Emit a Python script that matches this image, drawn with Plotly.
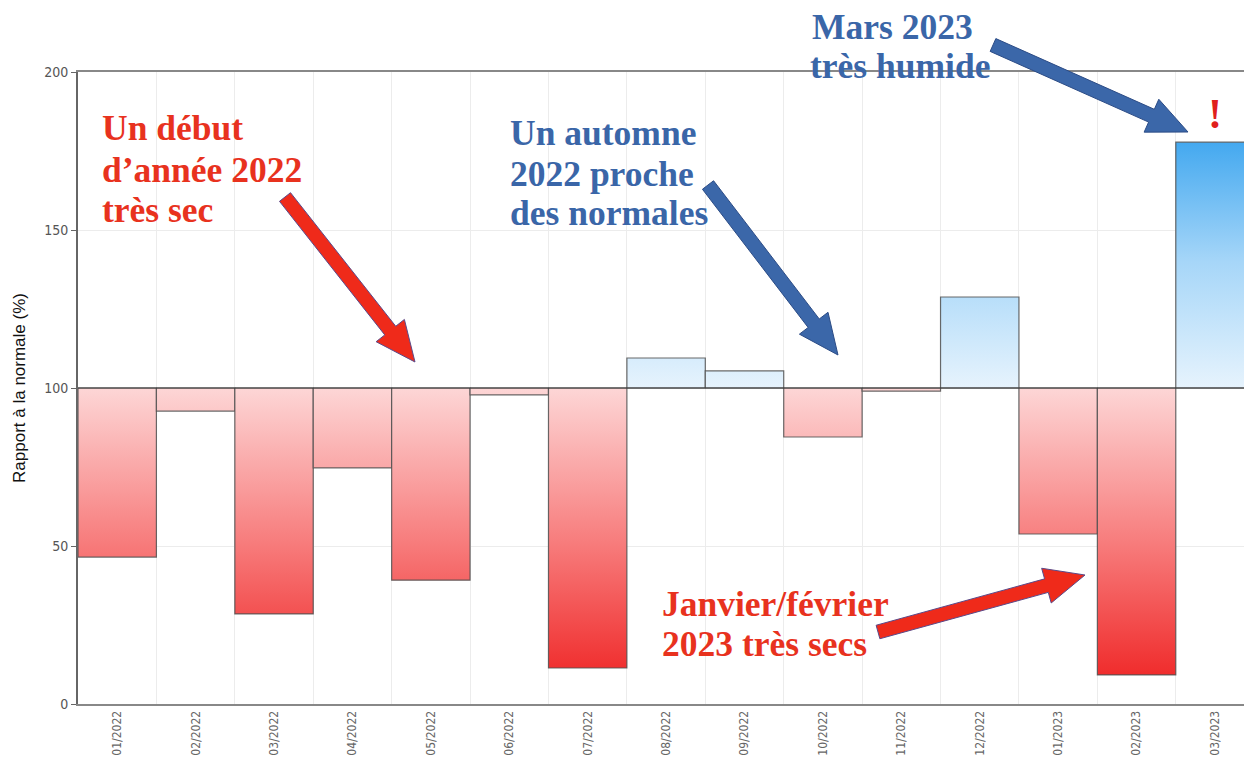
import math
import plotly.graph_objects as go

# ---- data ----
months = ["01/2022", "02/2022", "03/2022", "04/2022", "05/2022", "06/2022", "07/2022",
          "08/2022", "09/2022", "10/2022", "11/2022", "12/2022", "01/2023", "02/2023", "03/2023"]
ratio = [46.5, 92.7, 28.5, 74.7, 39.2, 97.8, 11.4, 109.5, 105.4, 84.5, 99.0, 128.8, 53.8, 9.2, 177.8]
normal = 100
y_ticks = [0, 50, 100, 150, 200]

# ---- geometry ----
W, H = 1244, 769
ML, MR, MT, MB = 78, 0, 72, 65
PW, PH = W - ML - MR, H - MT - MB

def px(x):
    return (x - ML) / PW

def py(y):
    return (H - MB - y) / PH

RED = "#e8321e"
BLUE = "#3a66a8"

fig = go.Figure()

red_scale = [[0, "#ee1b1b"], [0.5, "#f77a7a"], [1, "#fdd6d6"]]
blue_scale = [[0, "#e6f3fd"], [0.5, "#a6d6f8"], [1, "#3ea6ef"]]

for i, (m, v) in enumerate(zip(months, ratio)):
    xs = [i - 0.5, i + 0.5, i + 0.5, i - 0.5, i - 0.5]
    ys = [normal, normal, v, v, normal]
    if v < normal:
        grad = dict(type="vertical", colorscale=red_scale, start=0, stop=100)
    else:
        grad = dict(type="vertical", colorscale=blue_scale, start=100, stop=180)
    fig.add_trace(go.Scatter(
        x=xs, y=ys, mode="lines", fill="toself", fillgradient=grad,
        line=dict(color="rgba(80,80,80,0.85)", width=1.2),
        hoverinfo="skip", showlegend=False))

shapes = [dict(type="line", xref="paper", yref="y", x0=0, x1=1, y0=normal, y1=normal,
               line=dict(color="#333333", width=1.2), layer="above")]

def arrow(tail, head, fill, outline, shaft=14, headw=36, headl=40):
    (x0, y0), (x1, y1) = tail, head
    dx, dy = x1 - x0, y1 - y0
    L = math.hypot(dx, dy)
    ux, uy = dx / L, dy / L
    nx, ny = -uy, ux
    bx, by = x1 - ux * headl, y1 - uy * headl
    pts = [
        (x0 + nx * shaft / 2, y0 + ny * shaft / 2),
        (bx + nx * shaft / 2, by + ny * shaft / 2),
        (bx + nx * headw / 2, by + ny * headw / 2),
        (x1, y1),
        (bx - nx * headw / 2, by - ny * headw / 2),
        (bx - nx * shaft / 2, by - ny * shaft / 2),
        (x0 - nx * shaft / 2, y0 - ny * shaft / 2),
    ]
    path = "M " + " L ".join(f"{px(a):.5f},{py(b):.5f}" for a, b in pts) + " Z"
    return dict(type="path", xref="paper", yref="paper", path=path,
                fillcolor=fill, line=dict(color=outline, width=1), layer="above")

shapes.append(arrow((285, 197), (415, 362), "#ef2a1a", "#5a4a8a"))
shapes.append(arrow((708, 185), (838, 355), "#3b67a9", "#2c4c86"))
shapes.append(arrow((993, 45), (1188, 132), "#3b67a9", "#2c4c86"))
shapes.append(arrow((878, 632), (1085, 575), "#ef2a1a", "#5a4a8a"))

serif = "Liberation Serif, Times New Roman, serif"
FS = 35.5
text_lines = [
    ("Un début", 100, 128, RED),
    ("d’année 2022", 100, 170, RED),
    ("très sec", 100, 210, RED),
    ("Un automne", 508, 133, BLUE),
    ("2022 proche", 508, 174, BLUE),
    ("des normales", 508, 213, BLUE),
    ("Mars 2023", 810, 27, BLUE),
    ("très humide", 808, 66, BLUE),
    ("Janvier/février", 660, 604, RED),
    ("2023 très secs", 660, 644, RED),
]
annotations = []
for t, x, y, c in text_lines:
    annotations.append(dict(text=f"<b>{t}</b>", x=px(x), y=py(y), xanchor="left", yanchor="middle",
                            font=dict(family=serif, size=FS, color=c)))
annotations.append(dict(text="<b>!</b>", x=px(1215), y=py(114), xanchor="center", yanchor="middle",
                        font=dict(family=serif, size=42, color="#e0201c")))
for a in annotations:
    a.update(xref="paper", yref="paper", showarrow=False)

fig.update_layout(
    width=W, height=H,
    margin=dict(l=ML, r=MR, t=MT, b=MB, pad=0),
    paper_bgcolor="white", plot_bgcolor="white",
    showlegend=False, hovermode=False,
    shapes=shapes, annotations=annotations,
    font=dict(family="DejaVu Sans Condensed, Liberation Sans Narrow, sans-serif", color="#555555"),
)
fig.update_xaxes(
    range=[-0.5, 14.37], tickmode="array", tickvals=list(range(len(months))), ticktext=months,
    tickangle=-90, tickfont=dict(size=12, color="#666666"), ticks="", showgrid=False,
    showline=True, linecolor="#888888", linewidth=2, mirror=True, zeroline=False,
    minor=dict(tickvals=[i + 0.5 for i in range(len(months))], showgrid=True,
               gridcolor="#ececec", gridwidth=1, ticks=""),
)
fig.update_yaxes(
    range=[0, 200], tickmode="array", tickvals=y_ticks, ticks="outside", ticklen=5,
    tickcolor="#666666", tickfont=dict(size=14, color="#555555"),
    showgrid=True, gridcolor="#ececec", gridwidth=1,
    showline=True, linecolor="#666666", linewidth=2, zeroline=False,
    title=dict(text="Rapport à la normale (%)", standoff=14,
               font=dict(family="Liberation Sans, Arial, sans-serif", size=17, color="#111111")),
)

fig.write_html("out.html", config={"displayModeBar": False},
               post_script="document.body.style.margin='0px';document.body.style.overflow='hidden';")
